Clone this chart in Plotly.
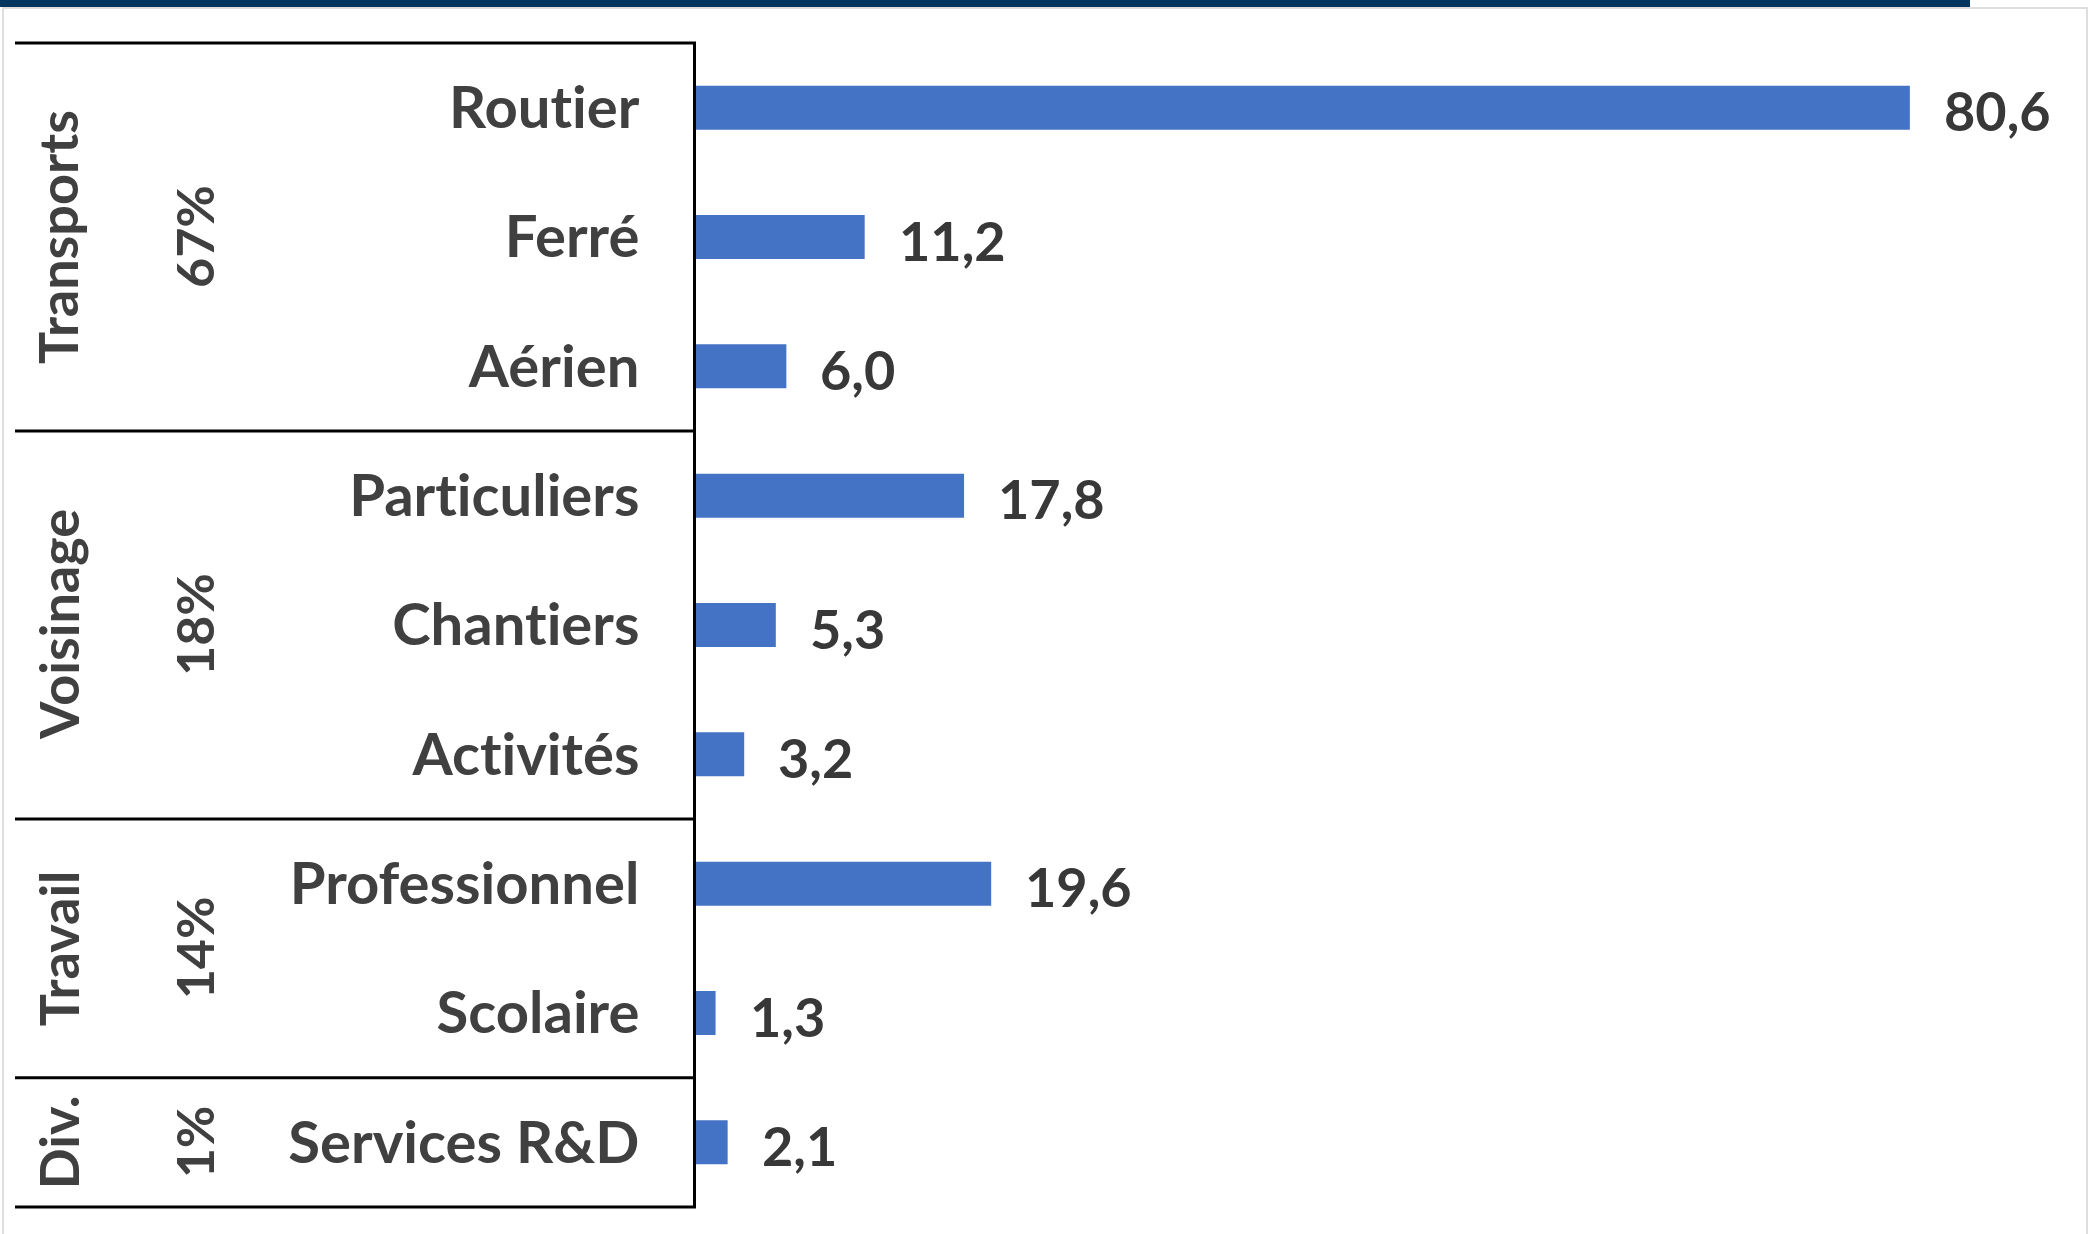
import plotly.graph_objects as go

categories = ["Routier", "Ferré", "Aérien", "Particuliers", "Chantiers", "Activités",
              "Professionnel", "Scolaire", "Services R&D"]
values = [80.6, 11.2, 6.0, 17.8, 5.3, 3.2, 19.6, 1.3, 2.1]
groups = ["Transports", "Voisinage", "Travail", "Div."]
group_sizes = [3, 3, 2, 1]
group_shares = ["67%", "18%", "14%", "1%"]

W, H = 2095, 1234
ML, MR, MT, MB = 696, 55, 43, 27
PW, PH = W - ML - MR, H - MT - MB

def px_x(p):
    return (p - ML) / PW

def px_y(p):
    return 1 - (p - MT) / PH

TEXT = "#404040"
FONT = "Lato"
FS = 54

fig = go.Figure(go.Bar(
    x=values, y=categories, orientation="h",
    marker=dict(color="#4472C4", line=dict(width=0)),
    width=0.34, hoverinfo="skip",
))

ann = []
for c, v in zip(categories, values):
    ann.append(dict(x=v, y=c, xref="x", yref="y", text=f"{v:.1f}".replace(".", ","),
                    showarrow=False, xanchor="left", yanchor="middle", xshift=32, yshift=-3,
                    font=dict(family=FONT, size=FS, color="#383838", weight="bold")))

shapes = []
n = len(categories)
start = 0
x_left = px_x(15)
shapes.append(dict(type="line", xref="paper", yref="paper", x0=x_left, x1=0,
                   y0=1, y1=1, line=dict(color="black", width=3)))
for g, size, share in zip(groups, group_sizes, group_shares):
    end = start + size
    ytop = 1 - start / n
    ybot = 1 - end / n
    shapes.append(dict(type="line", xref="paper", yref="paper", x0=x_left, x1=0,
                       y0=ybot, y1=ybot, line=dict(color="black", width=3)))
    ymid = (ytop + ybot) / 2
    ann.append(dict(x=px_x(58), y=ymid, xref="paper", yref="paper", text=g, textangle=-90,
                    showarrow=False, xanchor="center", yanchor="middle",
                    font=dict(family=FONT, size=FS, color=TEXT, weight="bold")))
    ann.append(dict(x=px_x(194), y=ymid, xref="paper", yref="paper", text=share, textangle=-90,
                    showarrow=False, xanchor="center", yanchor="middle",
                    font=dict(family=FONT, size=FS - 2, color=TEXT, weight="bold")))
    start = end

# light frame and navy top band
shapes.append(dict(type="rect", xref="paper", yref="paper", x0=px_x(3), x1=px_x(2087),
                   y0=px_y(1240), y1=px_y(8), line=dict(color="#dedede", width=2), layer="below"))
shapes.append(dict(type="rect", xref="paper", yref="paper", x0=px_x(-5), x1=px_x(1970),
                   y0=px_y(7), y1=px_y(-5), line=dict(width=0), fillcolor="#03355F"))

ticktext = [c.replace("ti", "t\u200ci") for c in categories]

fig.update_layout(
    width=W, height=H,
    margin=dict(l=ML, r=MR, t=MT, b=MB),
    paper_bgcolor="white", plot_bgcolor="white",
    showlegend=False,
    shapes=shapes, annotations=ann,
    xaxis=dict(range=[0, PW / 15.06], visible=False, showgrid=False, zeroline=False),
    yaxis=dict(autorange="reversed", showline=True, linecolor="black", linewidth=3,
               ticks="", showgrid=False, zeroline=False, ticklabelstandoff=42,
               tickmode="array", tickvals=categories, ticktext=ticktext,
               tickfont=dict(family=FONT, size=58, color=TEXT, weight="bold")),
)

fig.write_html("out.html", config={"displayModeBar": False},
               post_script="document.body.style.margin='0';document.body.style.overflow='hidden';")
